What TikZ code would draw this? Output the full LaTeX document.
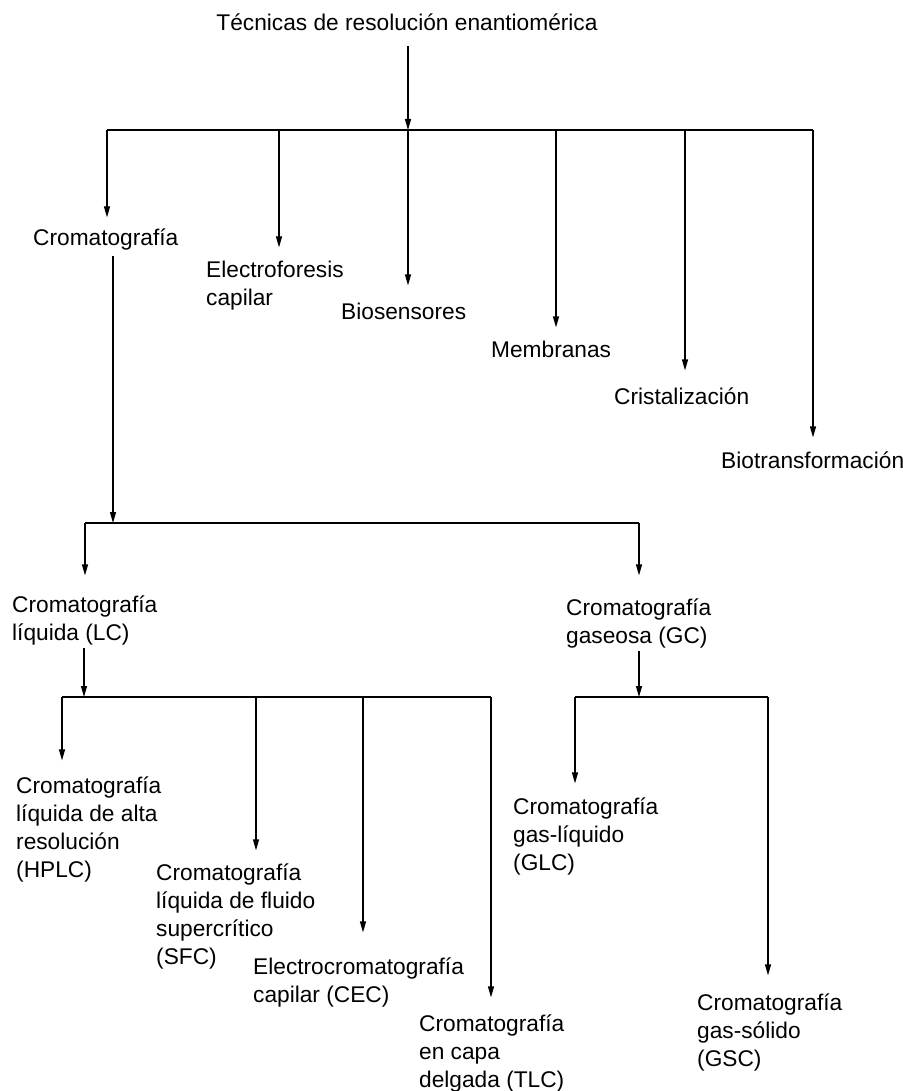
\documentclass[tikz,border=0pt]{standalone}
\usepackage{fontspec}
\setmainfont{Liberation Sans}
\usetikzlibrary{arrows.meta}
\newcommand\lblfont{\fontsize{22.7}{28}\selectfont}

\begin{document}
\begin{tikzpicture}[x=1pt,y=-1pt,
  lbl/.style={anchor=north west,inner sep=0pt,align=left,font=\lblfont},
  arr/.style={-{Triangle[length=11pt,width=6pt]},line width=1.2pt},
  bar/.style={line width=1.8pt}]
\useasboundingbox (0,0) rectangle (902,1091);
% labels
\node[anchor=base,inner sep=0pt,font=\lblfont] (title) at (407,31) {Técnicas de resolución enantiomérica};
\node[lbl] (crom) at (33,225.4) {\strut Cromatografía};
\node[lbl] (electro) at (206,257.4) {\strut Electroforesis\\capilar};
\node[lbl] (bios) at (341,299.4) {\strut Biosensores};
\node[lbl] (membr) at (491,337.4) {\strut Membranas};
\node[lbl] (crist) at (614,384.4) {\strut Cristalización};
\node[lbl] (biotr) at (721,448.4) {\strut Biotransformación};
\node[lbl] (lc) at (12,592.4) {\strut Cromatografía\\líquida (LC)};
\node[lbl] (gc) at (566,595.4) {\strut Cromatografía\\gaseosa (GC)};
\node[lbl] (hplc) at (16,773.4) {\strut Cromatografía\\líquida de alta\\resolución\\(HPLC)};
\node[lbl] (sfc) at (156,860.4) {\strut Cromatografía\\líquida de fluido\\supercrítico\\(SFC)};
\node[lbl] (cec) at (253,954.4) {\strut Electrocromatografía\\capilar (CEC)};
\node[lbl] (tlc) at (419,1011.4) {\strut Cromatografía\\en capa\\delgada (TLC)};
\node[lbl] (glc) at (513,794.4) {\strut Cromatografía\\gas-líquido\\(GLC)};
\node[lbl] (gsc) at (697,990.4) {\strut Cromatografía\\gas-sólido\\(GSC)};
% first level
\coordinate (t0) at (408,130);
\coordinate (t1) at (107,130);
\coordinate (t2) at (279,130);
\coordinate (t3) at (408,130);
\coordinate (t4) at (556,130);
\coordinate (t5) at (685,130);
\coordinate (t6) at (813,130);
\draw[bar] (t1) -- (t6);
\draw[arr,shorten <=15pt] (title.south -| t0) -- (t0);
\draw[arr,shorten >=8pt] (t1) -- (crom.north -| t1);
\draw[arr,shorten >=10pt] (t2) -- (electro.north -| t2);
\draw[arr,shorten >=14pt] (t3) -- (bios.north -| t3);
\draw[arr,shorten >=10pt] (t4) -- (membr.north -| t4);
\draw[arr,shorten >=14pt] (t5) -- (crist.north -| t5);
\draw[arr,shorten >=11pt] (t6) -- (biotr.north -| t6);
% cromatografia
\coordinate (c0) at (113,523);
\coordinate (c1) at (85,523);
\coordinate (c2) at (639,523);
\draw[bar] (c1) -- (c2);
\draw[arr,shorten <=2pt] (crom.south -| c0) -- (c0);
\draw[arr,shorten >=17pt] (c1) -- (lc.north -| c1);
\draw[arr,shorten >=20pt] (c2) -- (gc.north -| c2);
% liquida
\coordinate (l0) at (84,697);
\coordinate (l1) at (62,697);
\coordinate (l2) at (256,697);
\coordinate (l3) at (363,697);
\coordinate (l4) at (491,697);
\draw[bar] (l1) -- (l4);
\draw[arr,shorten <=3pt] (lc.south -| l0) -- (l0);
\draw[arr,shorten >=13pt] (l1) -- (hplc.north -| l1);
\draw[arr,shorten >=10pt] (l2) -- (sfc.north -| l2);
\draw[arr,shorten >=22pt] (l3) -- (cec.north -| l3);
\draw[arr,shorten >=14pt] (l4) -- (tlc.north -| l4);
% gaseosa
\coordinate (g0) at (639,697);
\coordinate (g1) at (575,697);
\coordinate (g2) at (768,697);
\draw[bar] (g1) -- (g2);
\draw[arr,shorten <=3pt] (gc.south -| g0) -- (g0);
\draw[arr,shorten >=11pt] (g1) -- (glc.north -| g1);
\draw[arr,shorten >=15pt] (g2) -- (gsc.north -| g2);
\end{tikzpicture}
\end{document}
